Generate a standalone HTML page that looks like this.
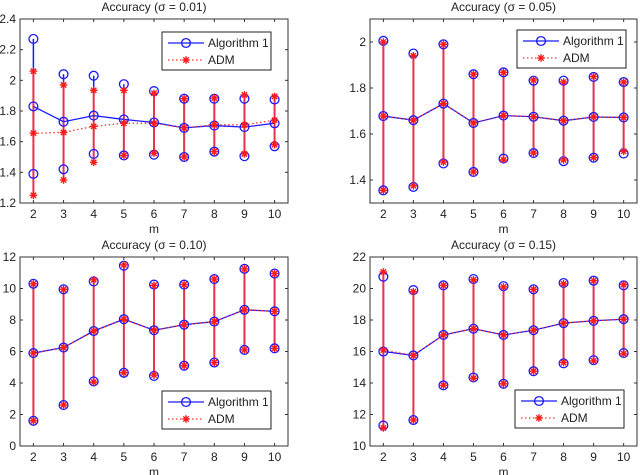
<!DOCTYPE html>
<html><head><meta charset="utf-8"><style>
body{margin:0;background:#fff;}
svg{display:block;font-family:"Liberation Sans",sans-serif;}
</style></head><body>
<svg id="c" width="640" height="475"></svg>
<script>
const categories=[2,3,4,5,6,7,8,9,10];
const titles=["Accuracy (\u03c3 = 0.01)","Accuracy (\u03c3 = 0.05)","Accuracy (\u03c3 = 0.10)","Accuracy (\u03c3 = 0.15)"];
const yTicks1=[1.2,1.4,1.6,1.8,2,2.2,2.4];
const yTicks2=[1.4,1.6,1.8,2];
const yTicks3=[0,2,4,6,8,10,12];
const yTicks4=[10,12,14,16,18,20,22];
const yRanges=[[1.2,2.4],[1.3,2.1],[0,12],[10,22]];
const algMean1=[1.83,1.73,1.77,1.745,1.725,1.69,1.705,1.695,1.72];
const algMax1=[2.27,2.04,2.03,1.975,1.93,1.88,1.88,1.88,1.875];
const algMin1=[1.39,1.42,1.52,1.51,1.515,1.50,1.535,1.505,1.57];
const admMean1=[1.655,1.66,1.70,1.72,1.72,1.69,1.71,1.71,1.74];
const admMax1=[2.06,1.97,1.935,1.935,1.915,1.88,1.885,1.905,1.895];
const admMin1=[1.25,1.35,1.465,1.51,1.525,1.50,1.535,1.52,1.58];
const algMean2=[1.678,1.66,1.732,1.648,1.68,1.675,1.658,1.674,1.672];
const algMax2=[2.005,1.95,1.99,1.86,1.868,1.832,1.832,1.848,1.826];
const algMin2=[1.355,1.37,1.472,1.435,1.493,1.517,1.482,1.497,1.515];
const admMean2=[1.678,1.66,1.732,1.648,1.68,1.675,1.658,1.674,1.672];
const admMax2=[2.0,1.94,1.99,1.86,1.868,1.835,1.826,1.85,1.826];
const admMin2=[1.355,1.375,1.478,1.435,1.487,1.517,1.487,1.497,1.525];
const algMean3=[5.9,6.25,7.3,8.05,7.35,7.7,7.9,8.65,8.55];
const algMax3=[10.3,9.95,10.45,11.45,10.25,10.25,10.6,11.25,10.95];
const algMin3=[1.6,2.6,4.1,4.65,4.45,5.1,5.3,6.1,6.2];
const admMean3=[5.9,6.25,7.3,8.05,7.35,7.7,7.9,8.65,8.55];
const admMax3=[10.3,9.95,10.55,11.5,10.2,10.25,10.6,11.25,10.95];
const admMin3=[1.6,2.6,4.05,4.65,4.5,5.1,5.3,6.1,6.2];
const algMean4=[16.0,15.75,17.05,17.45,17.05,17.35,17.8,17.95,18.05];
const algMax4=[20.75,19.9,20.2,20.6,20.15,19.95,20.35,20.5,20.2];
const algMin4=[11.3,11.65,13.85,14.35,13.95,14.75,15.25,15.45,15.9];
const admMean4=[16.1,15.75,17.05,17.45,17.05,17.35,17.8,17.95,18.05];
const admMax4=[21.05,19.8,20.2,20.55,20.1,19.95,20.3,20.5,20.25];
const admMin4=[11.15,11.65,13.85,14.3,13.95,14.75,15.3,15.4,15.85];

const NS="http://www.w3.org/2000/svg";
const svg=document.getElementById('c');
function mk(tag,attrs,parent){const e=document.createElementNS(NS,tag);for(const k in attrs)e.setAttribute(k,attrs[k]);(parent||svg).appendChild(e);return e;}
const RED="#e8334f",BLUE="#1a1aff",FS=12;
function star(g,x,y){
  const r=3.8;
  for(let a=0;a<4;a++){const t=a*Math.PI/4;mk('line',{x1:x-r*Math.cos(t),y1:y-r*Math.sin(t),x2:x+r*Math.cos(t),y2:y+r*Math.sin(t),stroke:"#ff1a1a","stroke-width":1.4},g);}
}
const panels=[
 {x0:20,x1:288,y0:19,y1:203,yt:yTicks1,d:[algMean1,algMax1,algMin1,admMean1,admMax1,admMin1],lg:[162,32]},
 {x0:370,x1:637,y0:19,y1:203,yt:yTicks2,d:[algMean2,algMax2,algMin2,admMean2,admMax2,admMin2],lg:[517,30]},
 {x0:20,x1:288,y0:257,y1:446,yt:yTicks3,d:[algMean3,algMax3,algMin3,admMean3,admMax3,admMin3],lg:[162,391]},
 {x0:370,x1:637,y0:257,y1:446,yt:yTicks4,d:[algMean4,algMax4,algMin4,admMean4,admMax4,admMin4],lg:[515,390]}
];
panels.forEach((p,i)=>{
  const g=mk('g',{});
  
  
  const [lo,hi]=yRanges[i];
  const pad=(p.x1-p.x0)*0.05;
  const xs=v=>p.x0+pad+(v-2)/8*(p.x1-p.x0-2*pad);
  const ys=v=>p.y1-(v-lo)/(hi-lo)*(p.y1-p.y0);
  mk('rect',{x:p.x0,y:p.y0,width:p.x1-p.x0,height:p.y1-p.y0,fill:"#fff",stroke:"#333","stroke-width":1},g);
  const t=mk('text',{x:(p.x0+p.x1)/2,y:p.y0-8,"text-anchor":"middle","font-size":FS,fill:"#222"},g);t.textContent=titles[i];
  
  const xl=mk('text',{x:(p.x0+p.x1)/2,y:p.y1+30,"text-anchor":"middle","font-size":FS,fill:"#222"},g);xl.textContent="m";
  
  categories.forEach(c=>{
    const x=xs(c);
    mk('line',{x1:x,y1:p.y1,x2:x,y2:p.y1-3,stroke:"#333"},g);mk('line',{x1:x,y1:p.y0,x2:x,y2:p.y0+3,stroke:"#333"},g);
    const tx=mk('text',{x:x,y:p.y1+15,"text-anchor":"middle","font-size":FS,fill:"#222"},g);tx.textContent=c;
    
  });
  p.yt.forEach(v=>{
    const y=ys(v);
    mk('line',{x1:p.x0,y1:y,x2:p.x0+3,y2:y,stroke:"#333"},g);mk('line',{x1:p.x1,y1:y,x2:p.x1-3,y2:y,stroke:"#333"},g);
    const ty=mk('text',{x:p.x0-4,y:y+4,"text-anchor":"end","font-size":FS,fill:"#222"},g);ty.textContent=v;
    
  });
  const [am,aM,an,dm,dM,dn]=p.d;
  categories.forEach((c,k)=>{
    const x=xs(c);
    const bl=mk('line',{x1:x,y1:ys(aM[k]),x2:x,y2:ys(an[k]),stroke:BLUE,"stroke-width":1.5},g);
    
    const rl=mk('line',{x1:x,y1:ys(dM[k]),x2:x,y2:ys(dn[k]),stroke:RED,"stroke-width":2},g);
    
  });
  const bp=mk('polyline',{points:categories.map((c,k)=>xs(c)+","+ys(am[k])).join(" "),fill:"none",stroke:BLUE,"stroke-width":1.3},g);
  
  const rp=mk('polyline',{points:categories.map((c,k)=>xs(c)+","+ys(dm[k])).join(" "),fill:"none",stroke:"#ff3030","stroke-width":1.3,"stroke-dasharray":"1.5,2.5"},g);
  
  categories.forEach((c,k)=>{
    const x=xs(c);
    [am,aM,an].forEach(a=>{const ci=mk('circle',{cx:x,cy:ys(a[k]),r:4.4,fill:"none",stroke:BLUE,"stroke-width":1.3},g);});
    [dm,dM,dn].forEach(a=>star(g,x,ys(a[k])));
  });
  const [lx,ly]=p.lg;
  const lg=mk('g',{},g);
  
  
  mk('rect',{x:lx,y:ly,width:109,height:38,fill:"#fff",stroke:"#222","stroke-width":1},lg);
  mk('line',{x1:lx+6,y1:ly+11,x2:lx+42,y2:ly+11,stroke:BLUE,"stroke-width":1.3},lg);
  mk('circle',{cx:lx+24,cy:ly+11,r:4.4,fill:"none",stroke:BLUE,"stroke-width":1.3},lg);
  const l1=mk('text',{x:lx+46,y:ly+15,"font-size":FS,fill:"#222"},lg);l1.textContent="Algorithm 1";
  
  mk('line',{x1:lx+6,y1:ly+28,x2:lx+42,y2:ly+28,stroke:"#ff3030","stroke-width":1.3,"stroke-dasharray":"1.5,2.5"},lg);
  star(lg,lx+24,ly+28);
  const l2=mk('text',{x:lx+46,y:ly+32,"font-size":FS,fill:"#222"},lg);l2.textContent="ADM";
  
});
</script>
</body></html>
